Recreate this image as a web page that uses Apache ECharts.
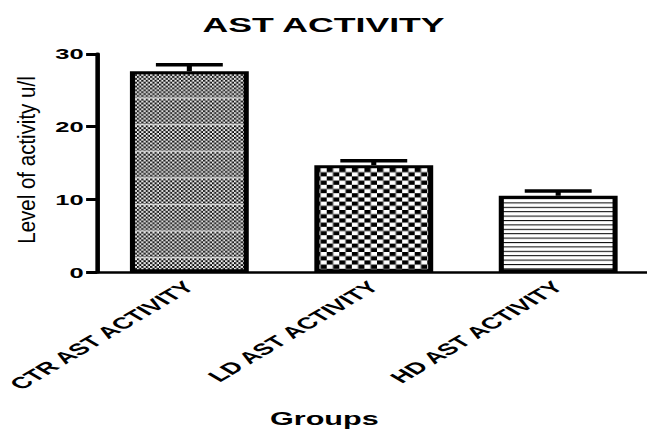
<!DOCTYPE html>
<html>
<head>
<meta charset="utf-8">
<script src="https://cdn.jsdelivr.net/npm/echarts@6/dist/echarts.min.js"></script>
<style>
  html, body { margin: 0; padding: 0; background: #fff; overflow: hidden; }
  #wrap { width: 647px; height: 432px; overflow: hidden; position: relative; }
  /* the figure is drawn narrow and widened horizontally, like the exported graph */
  #chart { width: 381px; height: 432px; transform: scaleX(1.6982); transform-origin: 0 0; }
</style>
</head>
<body>
<div id="wrap"><div id="chart"></div></div>
<script>
// Groups and measured AST activity (mean with SEM)
const categories = ['CTR AST ACTIVITY', 'LD AST ACTIVITY', 'HD AST ACTIVITY'];
const meanValues = [27.6, 14.7, 10.5];
const semValues = [0.9, 0.6, 0.65];
const yTicks = [0, 10, 20, 30];

const chartTitle = 'AST ACTIVITY';
const yAxisTitle = 'Level of activity u/l';
const xAxisTitle = 'Groups';

const FONT = '"Liberation Sans", Arial, sans-serif';

// Build a repeating fill tile, rendered at high resolution and sized in chart units.
function makeTile(w, h, draw) {
  const R = 10;
  const c = document.createElement('canvas');
  c.width = Math.round(w * R);
  c.height = Math.round(h * R);
  const ctx = c.getContext('2d');
  ctx.fillStyle = '#fff';
  ctx.fillRect(0, 0, c.width, c.height);
  ctx.fillStyle = '#000';
  draw(ctx, R);
  return { image: c.toDataURL(), repeat: 'repeat', imageWidth: w, imageHeight: h };
}

// fine checkerboard with a light band every few rows
const fineChecker = makeTile(2.6, 26.6, (ctx, R) => {
  const cw = 1.3, ch = 1.9;
  for (let r = 0; r < 14; r++) {
    for (let k = 0; k < 2; k++) {
      if ((r + k) % 2 === 0) ctx.fillRect(k * cw * R, r * ch * R, cw * R, ch * R);
    }
  }
  ctx.fillStyle = '#fff';
  ctx.fillRect(0, 18.0 * R, 2.6 * R, 0.9 * R);
});

// coarse checkerboard
const coarseChecker = makeTile(7.4, 8.4, (ctx, R) => {
  const cw = 3.7, ch = 4.2;
  ctx.fillRect(0, 0, cw * R, ch * R);
  ctx.fillRect(cw * R, ch * R, cw * R, ch * R);
});

// horizontal hatching
const hLines = makeTile(4, 4.4, (ctx, R) => {
  ctx.fillRect(0, 0, 4 * R, 1.1 * R);
});

const fills = [fineChecker, coarseChecker, hLines];

const chart = echarts.init(document.getElementById('chart'), null, { renderer: 'svg' });

chart.setOption({
  animation: false,
  backgroundColor: '#fff',
  title: {
    text: chartTitle,
    left: 'center',
    top: 9,
    textStyle: { fontFamily: FONT, fontWeight: 'bold', fontSize: 21, color: '#000' }
  },
  grid: {
    left: 57.2, right: -2, top: 53.8, bottom: 159.8,
    containLabel: false,
    outerBoundsMode: 'none'
  },
  xAxis: {
    type: 'category',
    data: categories,
    axisLine: { lineStyle: { color: '#000', width: 2.7 } },
    axisTick: { alignWithLabel: true, length: 6, lineStyle: { color: '#000', width: 2.5 } },
    axisLabel: {
      interval: 0, rotate: 45, margin: 12,
      color: '#000', fontFamily: FONT, fontWeight: 'bold', fontSize: 16
    }
  },
  yAxis: {
    type: 'value',
    min: yTicks[0],
    max: yTicks[yTicks.length - 1],
    interval: yTicks[1] - yTicks[0],
    axisLine: { show: true, lineStyle: { color: '#000', width: 2.7 } },
    axisTick: { show: true, length: 6.5, lineStyle: { color: '#000', width: 3 } },
    axisLabel: { color: '#000', fontFamily: FONT, fontWeight: 'bold', fontSize: 15, margin: 8 },
    splitLine: { show: false }
  },
  graphic: [
    {
      // vertical axis title
      type: 'text',
      x: 15.9,
      y: 160,
      rotation: Math.PI / 2,
      scaleY: 0.7,
      style: {
        text: yAxisTitle,
        font: '20.5px ' + FONT,
        fill: '#000',
        align: 'center',
        verticalAlign: 'middle'
      }
    },
    {
      // horizontal axis title
      type: 'text',
      x: 191,
      y: 419,
      style: {
        text: xAxisTitle,
        font: 'bold 18px ' + FONT,
        fill: '#000',
        align: 'center',
        verticalAlign: 'middle'
      }
    }
  ],
  series: [
    {
      type: 'bar',
      barWidth: 70,
      data: meanValues.map((v, i) => ({ value: v, itemStyle: { color: fills[i] } })),
      itemStyle: { borderColor: '#000', borderWidth: 3 },
      z: 2
    },
    {
      // upper error bars (mean + SEM)
      type: 'custom',
      z: 5,
      data: meanValues.map((v, i) => [i, v, v + semValues[i]]),
      renderItem(params, api) {
        const base = api.coord([api.value(0), api.value(1)]);
        const top = api.coord([api.value(0), api.value(2)]);
        const half = 19.7;
        return {
          type: 'group',
          children: [
            { type: 'line', shape: { x1: base[0], y1: base[1], x2: top[0], y2: top[1] },
              style: { stroke: '#000', lineWidth: 3 } },
            { type: 'line', shape: { x1: top[0] - half, y1: top[1], x2: top[0] + half, y2: top[1] },
              style: { stroke: '#000', lineWidth: 3.5 } }
          ]
        };
      }
    }
  ]
});
</script>
</body>
</html>
